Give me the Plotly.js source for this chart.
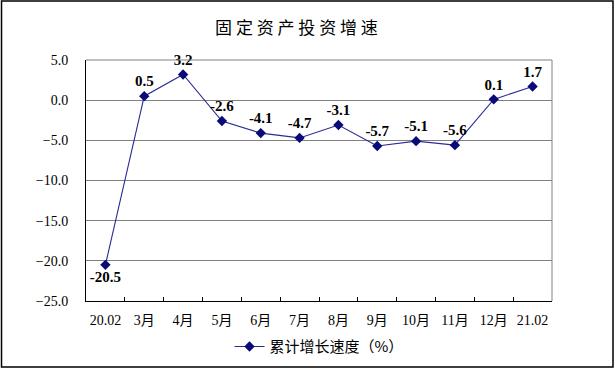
<!DOCTYPE html>
<html><head><meta charset="utf-8">
<script src="https://cdn.plot.ly/plotly-3.0.1.min.js"></script>
<style>body{margin:0;padding:0;background:#fff}#c{width:615px;height:369px}</style>
</head><body><div id="c"></div>
<script>
var categories = ["20.02","3月","4月","5月","6月","7月","8月","9月","10月","11月","12月","21.02"];
var growth = [-20.5, 0.5, 3.2, -2.6, -4.1, -4.7, -3.1, -5.7, -5.1, -5.6, 0.1, 1.7];
var labelPos = ["bottom center","top center","top center","top center","top center","top center","top center","top center","top center","top center","top center","top center"];
var seriesName = "累计增长速度（%）";
var titleText = "固 定 资 产 投 资 增 速";

var serif = "Liberation Serif, Times New Roman, serif";
var cjk = "Noto Sans CJK SC, sans-serif";

var trace = {
  x: categories, y: growth, type: "scatter", mode: "lines+markers+text",
  name: seriesName,
  line: {color: "#2a2a96", width: 1.1},
  marker: {symbol: "diamond", size: 8, color: "#0a0a78"},
  text: growth.map(function(v){return v.toFixed(1);}),
  textposition: labelPos,
  textfont: {family: serif, size: 15, color: "#000", weight: "bold"},
  cliponaxis: false
};

var layout = {
  width: 615, height: 369,
  margin: {l: 86, r: 63, t: 60, b: 68, autoexpand: false},
  paper_bgcolor: "#fff", plot_bgcolor: "#fff",
  title: {text: titleText, x: 0.482, xanchor: "center", y: 0.925, yanchor: "middle",
          font: {family: cjk, size: 17, color: "#000"}},
  showlegend: true,
  legend: {orientation: "h", x: 0.5, xanchor: "center", y: -0.19, yanchor: "middle",
           font: {family: cjk, size: 15, color: "#000"}, bgcolor: "rgba(0,0,0,0)"},
  xaxis: {type: "category", showline: true, linecolor: "#000", linewidth: 1,
          ticks: "inside", tickson: "boundaries", ticklen: 4, tickcolor: "#000",
          showgrid: false, tickfont: {family: serif + ", " + cjk, size: 14, color: "#000"},
          tickangle: 0, ticklabelstandoff: 6, range: [-0.5, 11.5]},
  yaxis: {range: [-25, 5], dtick: 5, tick0: 0, tickformat: ".1f",
          showline: true, linecolor: "#000", linewidth: 1, ticks: "",
          showgrid: true, gridcolor: "#808080", gridwidth: 1,
          zeroline: true, zerolinecolor: "#808080", zerolinewidth: 1,
          tickfont: {family: serif, size: 14, color: "#000"}, ticklabelstandoff: 14},
  shapes: [
    {type: "line", xref: "paper", yref: "paper", x0: 0, x1: 1, y0: 1, y1: 1, line: {color: "#808080", width: 1}},
    {type: "line", xref: "paper", yref: "paper", x0: 1, x1: 1, y0: 0, y1: 1, line: {color: "#808080", width: 1}},
    {type: "rect", xref: "paper", yref: "paper", x0: -0.1813, x1: 1.1309, y0: -0.2739, y1: 1.2448,
     line: {color: "#000", width: 1.5}, fillcolor: "rgba(0,0,0,0)"}
  ]
};

Plotly.newPlot("c", [trace], layout, {displayModeBar: false, staticPlot: true});
</script></body></html>
